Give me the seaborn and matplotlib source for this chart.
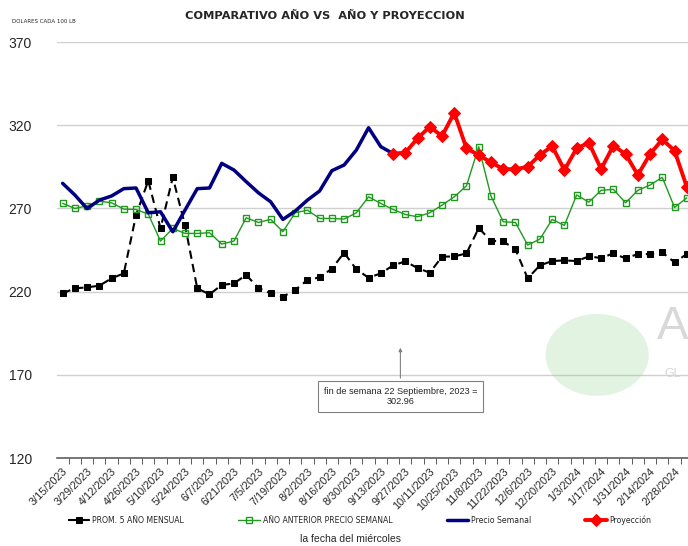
import numpy as np
import pandas as pd
import matplotlib.pyplot as plt
import seaborn as sns
from matplotlib.patches import Circle

# Weekly dates (Wednesdays)
fechas = pd.date_range("2023-03-15", periods=52, freq="7D")
etiquetas = [f"{d.month}/{d.day}/{d.year}" for d in fechas]

# PROM. 5 AÑO MENSUAL
prom5 = [219.0, 222.0, 222.6, 223.6, 228.0, 231.0, 266.0, 286.7, 258.0, 288.7,
         260.0, 222.0, 218.4, 224.0, 225.0, 230.0, 222.2, 219.0, 217.0, 221.0,
         227.0, 228.6, 233.8, 243.4, 233.4, 228.4, 231.0, 235.8, 238.2, 234.2,
         231.4, 241.0, 241.2, 243.0, 258.2, 250.6, 250.2, 245.4, 228.0, 235.8,
         238.4, 238.8, 238.4, 241.2, 240.2, 243.0, 240.0, 242.6, 242.6, 243.6,
         237.6, 242.6]

# AÑO ANTERIOR PRECIO SEMANAL
anterior = [273.1, 270.0, 271.6, 274.4, 273.4, 269.6, 269.4, 266.6, 250.4, 258.0,
            255.0, 255.0, 255.4, 248.6, 250.4, 264.4, 261.6, 263.4, 256.0, 267.4,
            269.0, 264.0, 264.0, 263.6, 267.4, 277.0, 273.0, 269.4, 266.4, 265.0,
            267.4, 272.0, 277.0, 283.6, 307.1, 277.5, 262.0, 261.6, 248.0, 251.6,
            263.4, 259.8, 278.1, 273.8, 280.9, 281.5, 273.4, 280.9, 284.1, 288.7,
            270.6, 276.4]

# Precio Semanal (weeks 0-27)
semanal = [285.1, 278.1, 269.9, 275.0, 277.5, 281.9, 282.3, 267.4, 268.0, 256.0,
           269.0, 281.9, 282.3, 297.1, 293.1, 286.1, 279.4, 274.0, 263.4, 268.4,
           275.0, 280.5, 292.7, 296.1, 305.1, 318.5, 307.1, 302.96]

# Proyección (weeks 27-51)
proyeccion = [302.96, 303.5, 312.1, 319.1, 313.5, 327.5, 306.1, 302.1, 297.7, 293.7,
              293.5, 295.1, 302.1, 307.5, 293.1, 306.1, 309.5, 293.7, 307.7, 302.7,
              290.1, 302.7, 311.5, 304.7, 283.0]

semana = np.arange(len(fechas))
df = pd.DataFrame({"semana": semana, "prom5": prom5, "anterior": anterior})
df["semanal"] = semanal + [np.nan] * (len(semana) - len(semanal))
df["proyeccion"] = [np.nan] * (len(semana) - len(proyeccion)) + proyeccion

sns.set_style("white")
plt.rcParams["font.family"] = ["Liberation Sans", "DejaVu Sans"]

fig = plt.figure(figsize=(6.88, 5.46), dpi=100)
ax = fig.add_axes([0.083, 0.161, 0.917, 0.762])

# light watermark globe
fig.patches.append(Circle((0.868, 0.35), 0.075, transform=fig.transFigure,
                          facecolor="#8fd18f", alpha=0.25, edgecolor="none", zorder=0))
fig.text(0.955, 0.38, "A", fontsize=34, color="#d8d8d8", zorder=0)
fig.text(0.965, 0.31, "GL", fontsize=9, color="#d8d8d8", zorder=0)

sns.lineplot(data=df, x="semana", y="prom5", ax=ax, color="black", lw=1.5,
             linestyle=(0, (4, 2.5)), marker="s", markersize=4.5, mec="black",
             label="PROM. 5 AÑO MENSUAL")
sns.lineplot(data=df, x="semana", y="anterior", ax=ax, color="#1f9a1f", lw=1,
             marker="s", markersize=4, mfc="none", mec="#1f9a1f", mew=1,
             label="AÑO ANTERIOR PRECIO SEMANAL")
sns.lineplot(data=df.dropna(subset=["semanal"]), x="semana", y="semanal", ax=ax,
             color="#000080", lw=2.5, label="Precio Semanal")
sns.lineplot(data=df.dropna(subset=["proyeccion"]), x="semana", y="proyeccion", ax=ax,
             color="red", lw=2.8, marker="D", markersize=6, mec="red",
             label="Proyección")

ax.set_xlim(-0.45, 51.1)
ax.set_ylim(120, 370)
ax.set_yticks(range(120, 371, 50))
ax.yaxis.grid(True, color="#d0d0d0", lw=1)
ax.tick_params(axis="y", length=0, labelsize=10, pad=18)

ax.set_xticks(semana[::2])
ax.set_xticklabels(etiquetas[::2], rotation=45, ha="right", rotation_mode="anchor",
                   fontsize=7.8)
ax.set_xticks(semana[:-1] + 0.5, minor=True)
ax.tick_params(axis="x", which="major", length=0, pad=6)
ax.tick_params(axis="x", which="minor", length=4, color="#404040", direction="out")
ax.xaxis.set_tick_params(which="minor", bottom=True)

for s in ["top", "right", "left"]:
    ax.spines[s].set_visible(False)
ax.spines["bottom"].set_color("#606060")
ax.spines["bottom"].set_linewidth(1.2)
ax.set_xlabel("")
ax.set_ylabel("")

# annotation box
ax.annotate("fin de semana 22 Septiembre, 2023 =\n302.96", xy=(27.6, 188),
            xytext=(27.6, 157), ha="center", va="center", fontsize=6.6,
            bbox=dict(boxstyle="square,pad=0.6", fc="white", ec="#808080", lw=0.8),
            arrowprops=dict(arrowstyle="-|>", color="#808080", lw=0.8,
                            mutation_scale=5))

ax.get_legend().remove()
h, l = ax.get_legend_handles_labels()
fig.legend(h, l, loc="center", bbox_to_anchor=(0.523, 0.047), ncol=4, frameon=False,
           columnspacing=7, handlelength=2.8, handletextpad=0.3,
           prop={"family": "DejaVu Sans", "size": 5.6})

fig.text(0.472, 0.971, "COMPARATIVO AÑO VS  AÑO Y PROYECCION", ha="center",
         va="center", fontsize=8.2, fontweight="bold", family="DejaVu Sans")
fig.text(0.017, 0.96, "DOLARES CADA 100 LB", fontsize=4, va="center",
         family="DejaVu Sans")
fig.text(0.51, 0.012, "la fecha del miércoles", ha="center", va="center", fontsize=7.5)

fig.savefig("out.png", dpi=100)
